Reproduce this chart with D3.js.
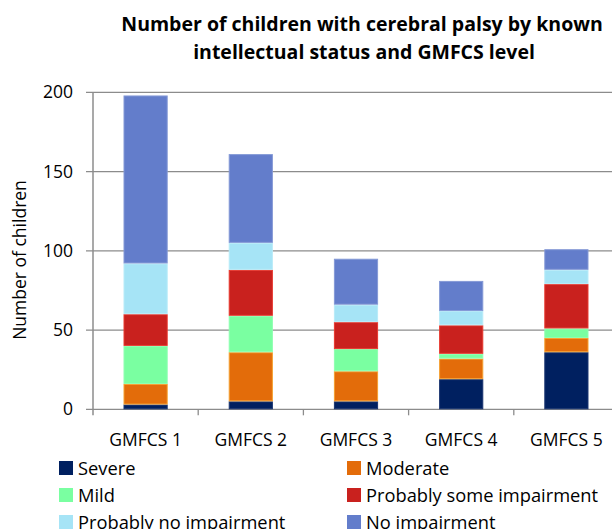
<!DOCTYPE html>
<html>
<head>
<meta charset="utf-8">
<script src="https://cdn.jsdelivr.net/npm/d3@7"></script>
<style>
  body { margin: 0; background: #fff; }
  svg { display: block; font-family: "Open Sans", Lato, sans-serif; }
</style>
</head>
<body>
<svg id="chart" width="612" height="529"></svg>
<script>
// data
var levels = ["GMFCS 1", "GMFCS 2", "GMFCS 3", "GMFCS 4", "GMFCS 5"];
var statuses = ["Severe", "Moderate", "Mild", "Probably some impairment", "Probably no impairment", "No impairment"];
var severe = [3, 5, 5, 19, 36];
var moderate = [13, 31, 19, 13, 9];
var mild = [24, 23, 14, 3, 6];
var probSome = [20, 29, 17, 18, 28];
var probNo = [32, 17, 11, 9, 9];
var noImp = [106, 56, 29, 19, 13];
var yTicks = [0, 50, 100, 150, 200];

var fills = ["#002060", "#E36C0A", "#7AFFA1", "#C9211E", "#A6E4F6", "#637DCB"];
var strokes = ["#1a3570", "#F5A030", "#8dffb0", "#E8392F", "#b8ebf8", "#8499d6"];

// build rows for stacking
var data = levels.map(function (g, i) {
  return {
    group: g,
    "Severe": severe[i],
    "Moderate": moderate[i],
    "Mild": mild[i],
    "Probably some impairment": probSome[i],
    "Probably no impairment": probNo[i],
    "No impairment": noImp[i]
  };
});

var svg = d3.select("#chart");
var plotLeft = 93, plotRight = 619, plotTop = 92.3, plotBottom = 409.3;

var x = d3.scaleBand().domain(levels).range([plotLeft, plotRight]).padding(0);
var y = d3.scaleLinear().domain([0, 200]).range([plotBottom, plotTop]);
var color = d3.scaleOrdinal().domain(statuses).range(fills);
var edge = d3.scaleOrdinal().domain(statuses).range(strokes);

// title
svg.append("text")
  .attr("x", 362).attr("y", 31)
  .attr("text-anchor", "middle")
  .attr("font-size", "19.5px").attr("font-weight", "bold")
  .text("Number of children with cerebral palsy by known");
svg.append("text")
  .attr("x", 364).attr("y", 59)
  .attr("text-anchor", "middle")
  .attr("font-size", "19.5px").attr("font-weight", "bold")
  .text("intellectual status and GMFCS level");

// gridlines
svg.append("g").selectAll("line")
  .data(yTicks)
  .enter().append("line")
  .attr("x1", plotLeft - 7).attr("x2", 612)
  .attr("y1", function (d) { return y(d); })
  .attr("y2", function (d) { return y(d); })
  .attr("stroke", "#8c8c8c").attr("stroke-width", 1.3);

// y axis labels
svg.append("g").selectAll("text")
  .data(yTicks)
  .enter().append("text")
  .attr("x", 73)
  .attr("y", function (d) { return y(d); })
  .attr("dy", "0.35em")
  .attr("text-anchor", "end")
  .attr("font-size", "17.5px")
  .text(function (d) { return d; });

// y axis title
svg.append("text")
  .attr("transform", "translate(26,260) rotate(-90)")
  .attr("text-anchor", "middle")
  .attr("font-size", "17.5px")
  .text("Number of children");

// stacked bars
var stacked = d3.stack().keys(statuses)(data);
var barW = x.bandwidth() * 0.42;

svg.append("g").selectAll("g")
  .data(stacked)
  .enter().append("g")
  .attr("fill", function (d) { return color(d.key); })
  .attr("stroke", function (d) { return edge(d.key); })
  .selectAll("rect")
  .data(function (d) { return d; })
  .enter().append("rect")
  .attr("x", function (d) { return x(d.data.group) + (x.bandwidth() - barW) / 2 + 0.5; })
  .attr("y", function (d) { return y(d[1]) + 0.5; })
  .attr("width", barW - 1)
  .attr("height", function (d) { return Math.max(0, y(d[0]) - y(d[1]) - 1); })
  .attr("stroke-width", 1);

// y axis line + x axis ticks
svg.append("line")
  .attr("x1", plotLeft).attr("x2", plotLeft)
  .attr("y1", plotTop).attr("y2", plotBottom + 6)
  .attr("stroke", "#8c8c8c").attr("stroke-width", 1.5);
svg.append("g").selectAll("line")
  .data(levels.slice(1))
  .enter().append("line")
  .attr("x1", function (d) { return x(d); })
  .attr("x2", function (d) { return x(d); })
  .attr("y1", plotBottom).attr("y2", plotBottom + 6)
  .attr("stroke", "#8c8c8c").attr("stroke-width", 1.3);

// x labels
svg.append("g").selectAll("text")
  .data(levels)
  .enter().append("text")
  .attr("x", function (d) { return x(d) + x.bandwidth() / 2; })
  .attr("y", 446)
  .attr("text-anchor", "middle")
  .attr("font-size", "17.5px")
  .text(function (d) { return d; });

// legend, two columns
var legend = svg.selectAll(".legend")
  .data(statuses)
  .enter().append("g")
  .attr("class", "legend")
  .attr("transform", function (d, i) {
    return "translate(" + (i % 2 === 0 ? 59 : 347) + "," + (461 + Math.floor(i / 2) * 27) + ")";
  });

legend.append("rect")
  .attr("width", 14).attr("height", 14)
  .attr("fill", function (d) { return color(d); });

legend.append("text")
  .attr("x", 19).attr("y", 7)
  .attr("dy", "0.36em")
  .attr("font-size", "18.3px")
  .text(function (d) { return d; });
</script>
</body>
</html>
